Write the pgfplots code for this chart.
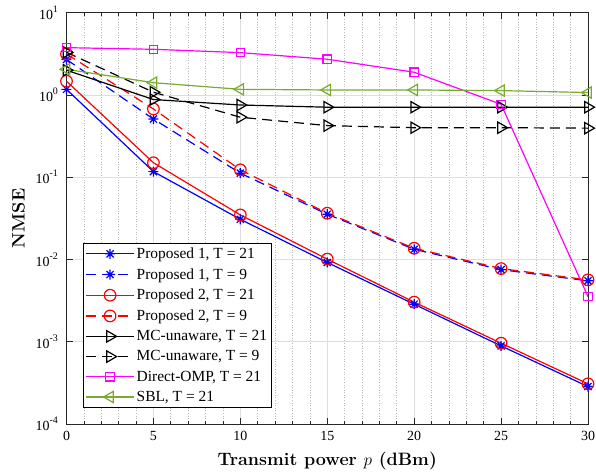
\documentclass[border=0pt]{standalone}
\usepackage{fontspec}
\usepackage{pgfplots}
\pgfplotsset{compat=1.18}
\newfontfamily\tnr{Liberation Serif}

% eight-armed asterisk (plus and cross)
\pgfdeclareplotmark{mstar}{%
  \pgfpathmoveto{\pgfqpoint{0pt}{\pgfplotmarksize}}%
  \pgfpathlineto{\pgfqpoint{0pt}{-\pgfplotmarksize}}%
  \pgfpathmoveto{\pgfqpoint{\pgfplotmarksize}{0pt}}%
  \pgfpathlineto{\pgfqpoint{-\pgfplotmarksize}{0pt}}%
  \pgfpathmoveto{\pgfqpoint{.707\pgfplotmarksize}{.707\pgfplotmarksize}}%
  \pgfpathlineto{\pgfqpoint{-.707\pgfplotmarksize}{-.707\pgfplotmarksize}}%
  \pgfpathmoveto{\pgfqpoint{-.707\pgfplotmarksize}{.707\pgfplotmarksize}}%
  \pgfpathlineto{\pgfqpoint{.707\pgfplotmarksize}{-.707\pgfplotmarksize}}%
  \pgfusepathqstroke}

\definecolor{sblgreen}{rgb}{0.47,0.67,0.19}
\definecolor{ompmag}{rgb}{1,0,1}
\newcommand{\tpow}[1]{10\raisebox{0.5em}{\fontsize{10}{10}\selectfont #1}}

\begin{document}
\begin{tikzpicture}
\begin{axis}[
  name=ax,
  scale only axis,
  width=521.5bp, height=411.3bp,
  ymode=log, log basis y=10,
  xmin=0, xmax=30, ymin=1e-4, ymax=10,
  xtick={0,5,...,30},
  minor x tick num=4,
  ytick={1e-4,1e-3,1e-2,1e-1,1,10},
  yticklabels={\tpow{-4},\tpow{-3},\tpow{-2},\tpow{-1},\tpow{0},\tpow{1}},
  tick align=inside,
  tick pos=both,
  major tick length=6bp, minor tick length=3bp,
  every tick/.style={black!85, line width=0.6bp},
  axis line style={line width=0.8bp, black!85},
  grid=both,
  major grid style={line width=0.6bp, black!13},
  minor grid style={line width=0.6bp, black!28, dotted},
  tick label style={font=\fontsize{14}{16}\selectfont\tnr},
  xticklabel style={yshift=-4bp},
  yticklabel style={xshift=-5bp},
  /pgf/number format/assume math mode=true,
  xticklabel={\pgfmathprintnumber{\tick}},
  xlabel={\fontsize{18}{20}\selectfont\bfseries Transmit power $p$ (dBm)},
  ylabel={\fontsize{18}{20}\selectfont\bfseries NMSE},
  xlabel style={yshift=-4bp},
  ylabel style={yshift=4bp},
  legend style={at={(0.032,0.041)}, anchor=south west,
    font=\fontsize{15.5}{17}\selectfont\tnr,
    draw=black, line width=0.6bp, fill=white,
    row sep=4.5bp, inner sep=2bp},
  legend cell align=left,
  legend image code/.code={%
    \draw[line width=1.2bp, mark repeat=2, mark phase=2]
      plot coordinates {(0bp,0bp) (24bp,0bp) (48bp,0bp)};},
  every axis plot/.append style={line width=1.2bp, mark size=5bp},
]
% Proposed 1, T = 21
\addplot[blue, mark=mstar, mark options={solid}] coordinates {
  (0,1.17) (5,0.117) (10,0.0308) (15,0.0092) (20,0.00286) (25,0.00089) (30,0.000285)};
% Proposed 1, T = 9
\addplot[blue, dash pattern=on 10bp off 6bp, mark=mstar, mark options={solid}] coordinates {
  (0,2.7) (5,0.51) (10,0.112) (15,0.0355) (20,0.0133) (25,0.00753) (30,0.0055)};
% Proposed 2, T = 21
\addplot[red, mark=o, mark size=5.8bp, mark options={solid}] coordinates {
  (0,1.47) (5,0.150) (10,0.0348) (15,0.0101) (20,0.00303) (25,0.00096) (30,0.000308)};
% Proposed 2, T = 9
\addplot[red, dash pattern=on 10bp off 6bp, mark=o, mark size=5.8bp, mark options={solid}] coordinates {
  (0,3.15) (5,0.676) (10,0.123) (15,0.0365) (20,0.0137) (25,0.00775) (30,0.00565)};
% MC-unaware, T = 21
\addplot[black, mark=triangle, mark size=6.5bp, mark options={solid, rotate=-90}] coordinates {
  (0,2.0) (5,0.88) (10,0.755) (15,0.71) (20,0.71) (25,0.71) (30,0.71)};
% MC-unaware, T = 9
\addplot[black, dash pattern=on 10bp off 6bp, mark=triangle, mark size=6.5bp, mark options={solid, rotate=-90}] coordinates {
  (0,3.3) (5,1.08) (10,0.536) (15,0.424) (20,0.40) (25,0.40) (30,0.395)};
% Direct-OMP, T = 21
\addplot[ompmag, mark=square, mark size=4.2bp, mark options={solid}] coordinates {
  (0,3.76) (5,3.59) (10,3.27) (15,2.72) (20,1.89) (25,0.77) (30,0.00354)};
% SBL, T = 21
\addplot[sblgreen, mark=triangle, mark size=6.5bp, mark options={solid, rotate=90}] coordinates {
  (0,2.05) (5,1.41) (10,1.17) (15,1.15) (20,1.15) (25,1.13) (30,1.07)};
\legend{{Proposed 1, T = 21}, {Proposed 1, T = 9}, {Proposed 2, T = 21}, {Proposed 2, T = 9},
  {MC-unaware, T = 21}, {MC-unaware, T = 9}, {Direct-OMP, T = 21}, {SBL, T = 21}}
\end{axis}
% page frame: fixed margins round the axis box
\pgfresetboundingbox
\path ([shift={(-66.5bp,-48bp)}]ax.south west) rectangle ([shift={(8bp,12.7bp)}]ax.north east);
\end{tikzpicture}
\end{document}
